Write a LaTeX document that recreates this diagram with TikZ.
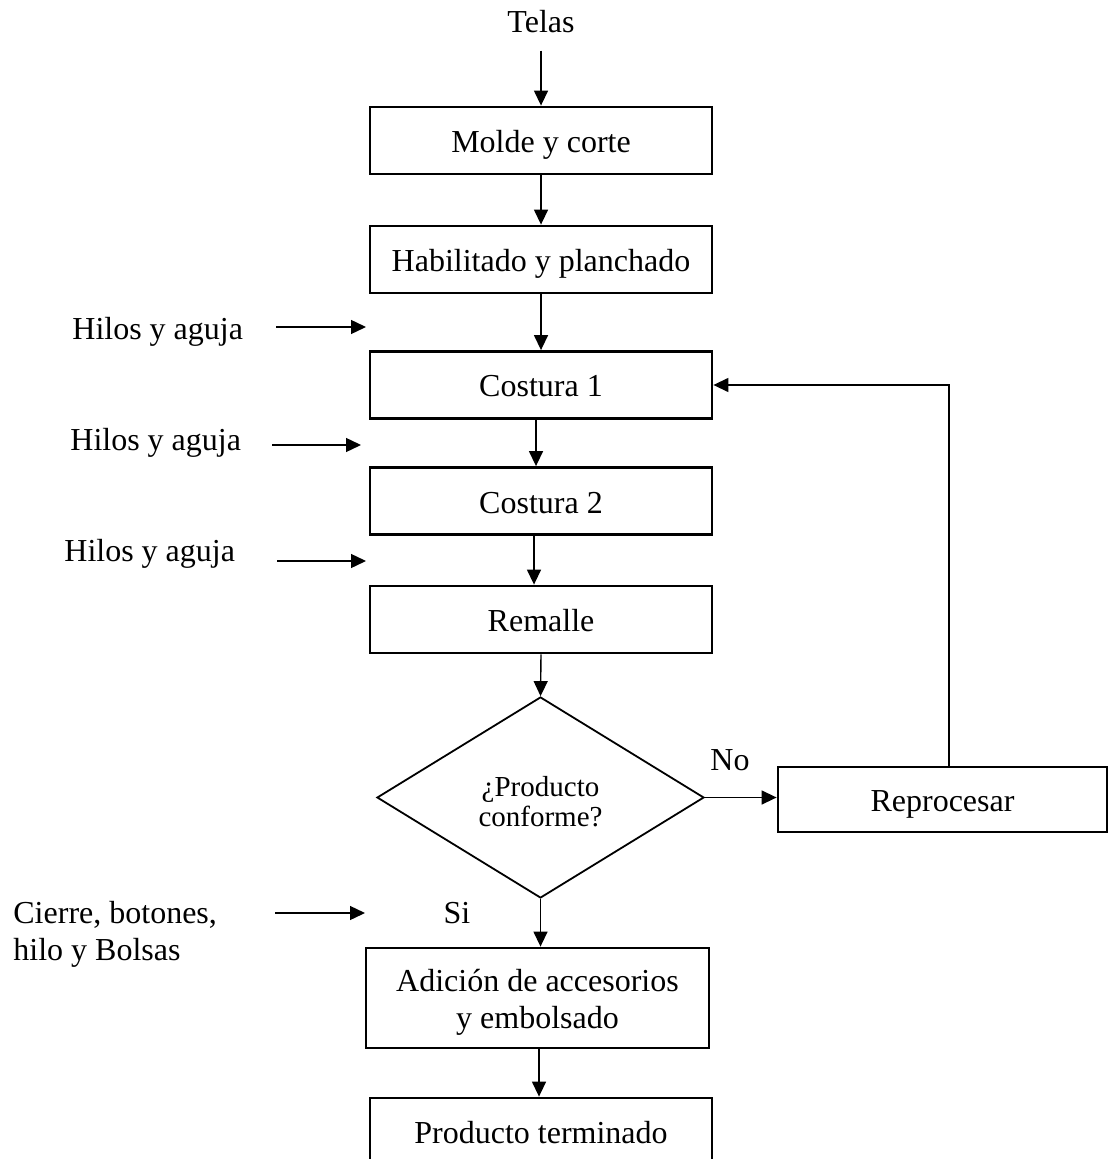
\documentclass[tikz,border=0pt]{standalone}
\usepackage{fontspec}
\setmainfont{Liberation Serif}
\usetikzlibrary{arrows.meta,shapes.geometric}
\tikzset{
  txt/.style={font=\fontsize{16pt}{18.5pt}\selectfont, inner sep=0pt},
  procbox/.style={draw, line width=1.4pt, font=\fontsize{16pt}{18.5pt}\selectfont,
    minimum width=171pt, minimum height=33.5pt, inner sep=0pt,
    text height=12pt, text depth=0pt},
  twoline/.style={procbox, text height=, text depth=, align=center},
  decision/.style={draw, diamond, line width=0.9pt, minimum width=163.5pt,
    minimum height=100.5pt, inner sep=0pt, align=center,
    font=\fontsize{14.5pt}{15pt}\selectfont},
  flow/.style={line width=0.7pt, -{Triangle[length=7.5pt,width=7pt]}},
}

\begin{document}
\begin{tikzpicture}[x=0.5pt,y=-0.5pt]
\useasboundingbox (0,0) rectangle (1109,1159);
\clip (0,0) rectangle (1109,1159);

% main process column
\node[txt, anchor=base] (telas) at (541,33) {Telas};
\node[procbox] (molde) at (541,140.5) {Molde y corte};
\node[procbox] (habil) at (541,259.5) {Habilitado y planchado};
\node[procbox] (cost1) at (541,385) {Costura 1};
\node[procbox] (cost2) at (541,501) {Costura 2};
\node[procbox] (remal) at (541,619.5) {Remalle};
\node[decision] (conf) at (540.5,797.5) {\rule{0pt}{14pt}¿Producto\\conforme?};
\node[procbox, minimum width=164.5pt, minimum height=32.5pt] (repro) at (942.5,799.5) {Reprocesar};
\node[twoline, minimum width=171.5pt, minimum height=50pt] (adic) at (537.5,998) {\rule{0pt}{15.5pt}Adición de accesorios\\y embolsado};
\node[procbox] (term) at (541,1131.5) {Producto terminado};

% inputs on the left
\node[txt, anchor=base west] (hilos1) at (72,340) {Hilos y aguja};
\node[txt, anchor=base west] (hilos2) at (70,450.5) {Hilos y aguja};
\node[txt, anchor=base west] (hilos3) at (64,561) {Hilos y aguja};
\node[txt, anchor=north west, align=left] (cierre) at (13,901) {Cierre, botones,\\hilo y Bolsas};

% decision labels
\node[txt, anchor=base] (si) at (457,923) {Si};
\node[txt, anchor=base] (no) at (730,770) {No};

% input arrow end points
\coordinate (h1a) at (276,327); \coordinate (h1b) at (366,327);
\coordinate (h2a) at (272,445); \coordinate (h2b) at (361,445);
\coordinate (h3a) at (277,561); \coordinate (h3b) at (366,561);
\coordinate (c4a) at (275,913); \coordinate (c4b) at (365,913);

% connectors
\draw[flow, shorten <=8.5pt] (telas.south) -- (molde.north);
\draw[flow] (molde.south) -- (habil.north);
\draw[flow] (habil.south) -- (cost1.north);
\draw[flow] ([xshift=-2.5pt]cost1.south) -- ([xshift=-2.5pt]cost2.north);
\draw[flow] ([xshift=-3.5pt]cost2.south) -- ([xshift=-3.5pt]remal.north);
\draw[flow] (remal.south) -- (conf.north);
\draw[flow] (conf.south) -- (adic.north -| conf.south);
\draw[flow] ([xshift=0.75pt]adic.south) -- ([xshift=0.75pt]adic.south |- term.north);
\draw[flow] (conf.east) -- (conf.east -| repro.west);
\draw[flow] ([xshift=3.25pt]repro.north) |- (cost1.east);

\draw[flow] (h1a) -- (h1b);
\draw[flow] (h2a) -- (h2b);
\draw[flow] (h3a) -- (h3b);
\draw[flow] (c4a) -- (c4b);
\end{tikzpicture}
\end{document}
